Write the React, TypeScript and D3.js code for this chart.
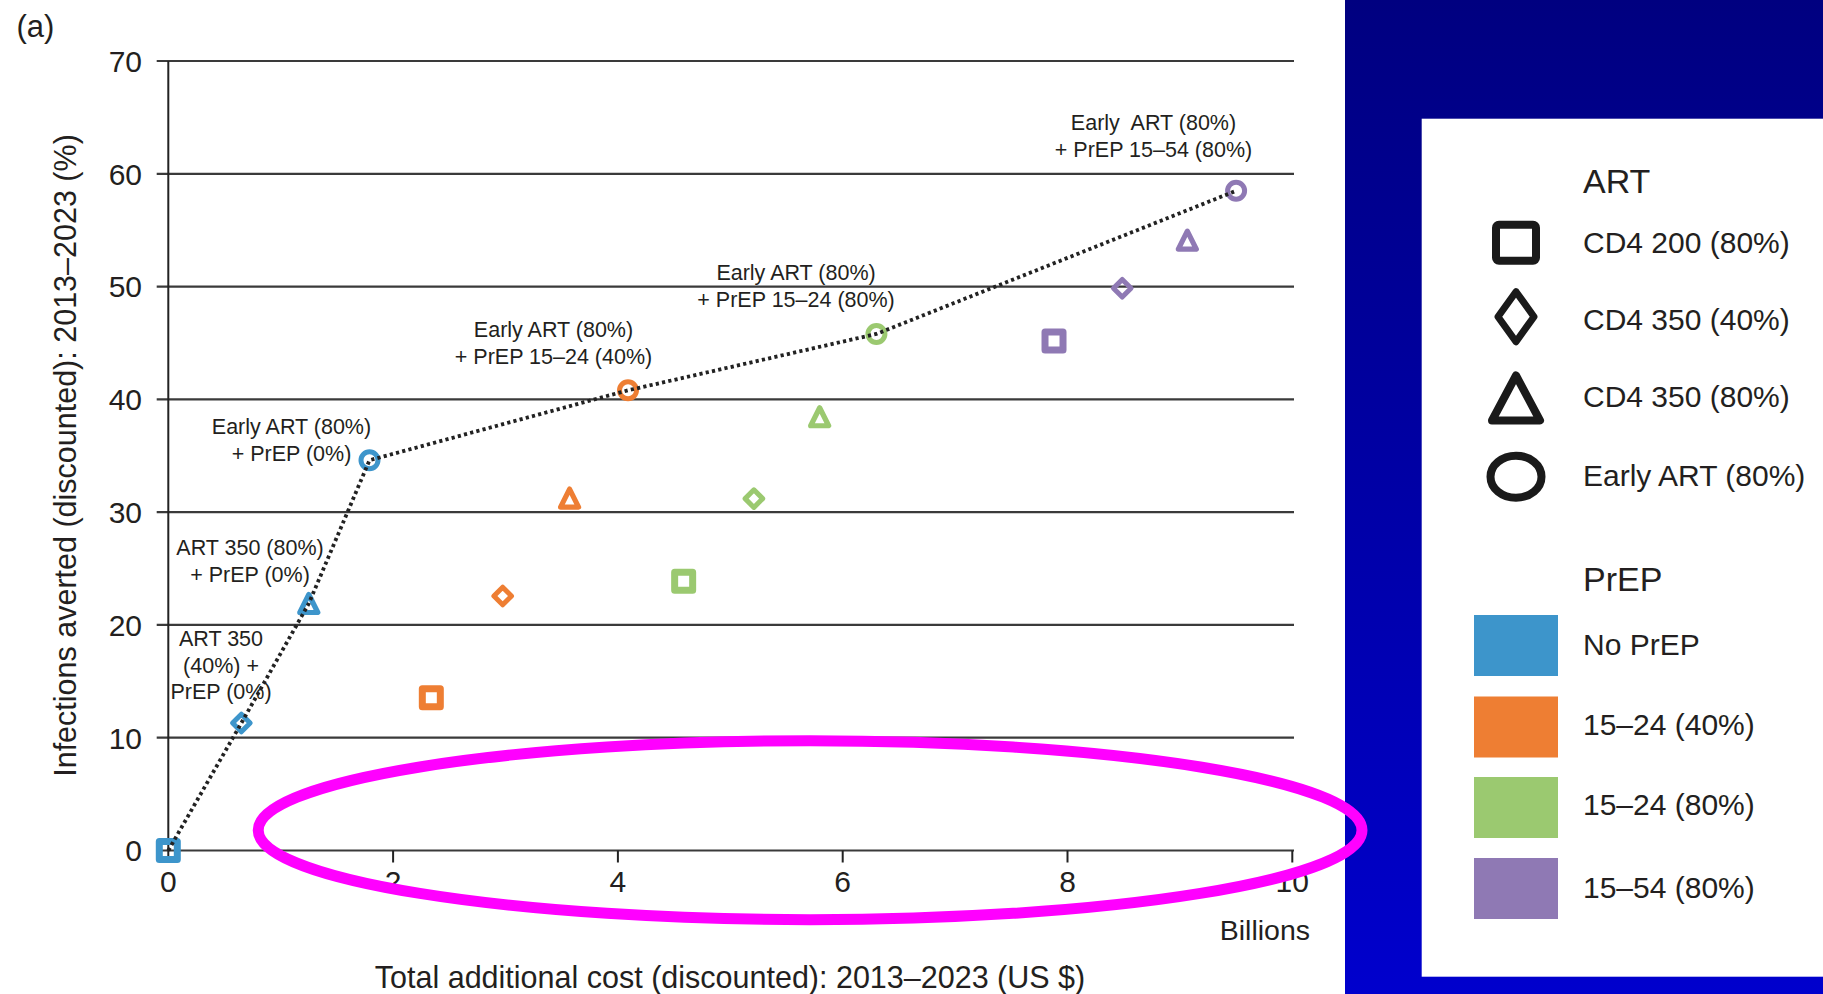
import React from "react";
import * as d3 from "d3";

// ART strategies (marker shape) and PrEP scale-up groups (colour)
const artOptions = ["CD4 200 (80%)", "CD4 350 (40%)", "CD4 350 (80%)", "Early ART (80%)"];
const artShapes = ["square", "diamond", "triangle", "circle"];
const prepGroups = ["No PrEP", "15–24 (40%)", "15–24 (80%)", "15–54 (80%)"];
const prepColors = ["#3d95cb", "#ee7e33", "#9bc970", "#8f79b4"];

// Total additional cost (billions US$), one value per ART option, per PrEP group
const costNoPrep = [0, 0.65, 1.25, 1.79];
const cost1524_40 = [2.34, 2.975, 3.57, 4.09];
const cost1524_80 = [4.585, 5.21, 5.795, 6.3];
const cost1554_80 = [7.88, 8.487, 9.066, 9.5];

// Infections averted (%), same order
const avertedNoPrep = [0, 11.3, 21.9, 34.6];
const averted1524_40 = [13.55, 22.56, 31.25, 40.8];
const averted1524_80 = [23.87, 31.2, 38.46, 45.8];
const averted1554_80 = [45.17, 49.85, 54.12, 58.49];

const costs = [costNoPrep, cost1524_40, cost1524_80, cost1554_80];
const averted = [avertedNoPrep, averted1524_40, averted1524_80, averted1554_80];

// Efficiency frontier: [PrEP group, ART option]
const frontier = [[0, 0], [0, 1], [0, 2], [0, 3], [1, 3], [2, 3], [3, 3]];

// Frontier annotations: anchor (cost, averted) of first line's baseline
const annotationLines = [
  ["Early  ART (80%)", "+ PrEP 15–54 (80%)"],
  ["Early ART (80%)", "+ PrEP 15–24 (80%)"],
  ["Early ART (80%)", "+ PrEP 15–24 (40%)"],
  ["Early ART (80%)", "+ PrEP (0%)"],
  ["ART 350 (80%)", "+ PrEP (0%)"],
  ["ART 350", "(40%) +", "PrEP (0%)"],
];
const annotationCost = [8.765, 5.585, 3.427, 1.096, 0.727, 0.469];
const annotationAverted = [63.87, 50.58, 45.52, 36.92, 26.2, 18.13];

const xTicks = [0, 2, 4, 6, 8, 10];
const yTicks = [0, 10, 20, 30, 40, 50, 60, 70];

const W = 1823;
const H = 994;
const FONT = "'Liberation Sans', Arial, Helvetica, sans-serif";
const INK = "#231f20";

function markerPath(shape: string, s: number): string {
  // s: half-size of the path outline
  switch (shape) {
    case "square":
      return `M${-s},${-s}H${s}V${s}H${-s}Z`;
    case "diamond":
      return `M0,${-s}L${s},0L0,${s}L${-s},0Z`;
    case "triangle":
      return `M0,${-s}L${s},${s}L${-s},${s}Z`;
    default:
      return "";
  }
}

function Marker({ shape, color, cx, cy }: { shape: string; color: string; cx: number; cy: number }) {
  if (shape === "circle") {
    return <circle cx={cx} cy={cy} r={8.5} fill="none" stroke={color} strokeWidth={5} />;
  }
  const size = shape === "square" ? 9 : shape === "diamond" ? 8.8 : 9;
  const sw = shape === "square" ? 7 : shape === "diamond" ? 5 : 5.2;
  return (
    <path
      d={markerPath(shape, size)}
      transform={`translate(${cx},${cy})`}
      fill="none"
      stroke={color}
      strokeWidth={sw}
      strokeLinejoin="round"
    />
  );
}

function LegendSymbol({ shape, cx, cy }: { shape: string; cx: number; cy: number }) {
  const c = "#1a1a1a";
  if (shape === "square")
    return <rect x={cx - 20} y={cy - 18} width={40} height={36} rx={3} fill="none" stroke={c} strokeWidth={8} />;
  if (shape === "diamond")
    return (
      <path d={`M${cx},${cy - 25}L${cx + 18},${cy}L${cx},${cy + 25}L${cx - 18},${cy}Z`} fill="none" stroke={c} strokeWidth={7} strokeLinejoin="round" />
    );
  if (shape === "triangle")
    return (
      <path d={`M${cx},${cy - 22.5}L${cx + 24},${cy + 22.5}L${cx - 24},${cy + 22.5}Z`} fill="none" stroke={c} strokeWidth={8} strokeLinejoin="round" />
    );
  return <ellipse cx={cx} cy={cy} rx={25.5} ry={21} fill="none" stroke={c} strokeWidth={8} />;
}

export default function App() {
  const x = d3.scaleLinear().domain([0, 10]).range([168.3, 1292.3]);
  const y = d3.scaleLinear().domain([0, 70]).range([850.5, 61]);

  const frontierLine = d3
    .line<number[]>()
    .x((d) => x(costs[d[0]][d[1]]))
    .y((d) => y(averted[d[0]][d[1]]));

  const legendX = 1421.7;
  const legendTextX = 1583;
  const artRowY = [242.7, 316.7, 398, 476.7];
  const artLabelY = [253, 330, 407, 486];
  const swatchY = [615, 696.5, 777, 858];
  const prepLabelY = [655, 735, 815, 898];

  // highlight ellipse around the x-axis cost range, in data units
  const ringCx = x(5.71);
  const ringCy = y(1.8);
  const ringRx = x(4.91) - x(0);
  const ringRy = y(0) - y(7.93);

  return (
    <svg
      width={W}
      height={H}
      viewBox={`0 0 ${W} ${H}`}
      style={{ position: "absolute", left: 0, top: 0, display: "block" }}
      fontFamily={FONT}
    >
      <defs>
        <linearGradient id="panelBlue" x1="0" y1="0" x2="0" y2="1">
          <stop offset="0" stopColor="#000080" />
          <stop offset="1" stopColor="#0000cd" />
        </linearGradient>
      </defs>
      <rect x={0} y={0} width={W} height={H} fill="#ffffff" />

      {/* panel tag */}
      <text x={16.5} y={37} fontSize={31} fill={INK}>(a)</text>

      {/* gridlines with left ticks */}
      {yTicks.map((t) => (
        <line key={`g${t}`} x1={156.7} x2={1294} y1={y(t)} y2={y(t)} stroke="#3a3a3a" strokeWidth={2.2} />
      ))}
      {/* y axis */}
      <line x1={x(0)} x2={x(0)} y1={y(70)} y2={y(0)} stroke="#222" strokeWidth={2} />
      {/* x ticks */}
      {xTicks.map((t) => (
        <line key={`xt${t}`} x1={x(t)} x2={x(t)} y1={y(0)} y2={y(0) + 12} stroke="#222" strokeWidth={2} />
      ))}
      {yTicks.map((t) => (
        <text key={`yl${t}`} x={142} y={y(t)} dy="0.36em" textAnchor="end" fontSize={30} fill={INK}>
          {t}
        </text>
      ))}
      {xTicks.map((t) => (
        <text key={`xl${t}`} x={x(t)} y={892} textAnchor="middle" fontSize={30} fill={INK}>
          {t}
        </text>
      ))}
      <text x={1310} y={940} textAnchor="end" fontSize={28.5} fill={INK}>Billions</text>
      <text x={730} y={988} textAnchor="middle" fontSize={30.5} fill={INK}>
        Total additional cost (discounted): 2013–2023 (US $)
      </text>
      <text
        transform={`translate(76,455.5) rotate(-90)`}
        textAnchor="middle"
        fontSize={30.5}
        fill={INK}
      >
        Infections averted (discounted): 2013–2023 (%)
      </text>

      {/* scenario markers */}
      {prepGroups.map((g, gi) =>
        artShapes.map((shape, ai) => (
          <Marker
            key={`${g}-${ai}`}
            shape={shape}
            color={prepColors[gi]}
            cx={x(costs[gi][ai])}
            cy={y(averted[gi][ai])}
          />
        ))
      )}

      {/* efficiency frontier */}
      <path
        d={frontierLine(frontier) || ""}
        fill="none"
        stroke="#222"
        strokeWidth={3.8}
        strokeDasharray="3.2 3.2"
      />

      {/* frontier annotations */}
      {annotationLines.map((lines, i) => (
        <text key={`a${i}`} textAnchor="middle" fontSize={21.5} fill={INK}>
          {lines.map((ln, j) => (
            <tspan key={j} x={x(annotationCost[i])} y={y(annotationAverted[i]) + j * 26.5} style={{ whiteSpace: "pre" }}>
              {ln}
            </tspan>
          ))}
        </text>
      ))}

      {/* blue side panel with legend */}
      <rect x={1345} y={0} width={W - 1345} height={H} fill="url(#panelBlue)" />
      <rect x={legendX} y={118.7} width={W - legendX} height={976.7 - 118.7} fill="#ffffff" />
      <text x={legendTextX} y={193} fontSize={34} fill={INK}>ART</text>
      {artOptions.map((lab, i) => (
        <g key={`la${i}`}>
          <LegendSymbol shape={artShapes[i]} cx={1516} cy={artRowY[i]} />
          <text x={legendTextX} y={artLabelY[i]} fontSize={30} fill={INK}>{lab}</text>
        </g>
      ))}
      <text x={legendTextX} y={590.7} fontSize={34} fill={INK}>PrEP</text>
      {prepGroups.map((lab, i) => (
        <g key={`lp${i}`}>
          <rect x={1474} y={swatchY[i]} width={84} height={61} fill={prepColors[i]} />
          <text x={legendTextX} y={prepLabelY[i]} fontSize={30} fill={INK}>{lab}</text>
        </g>
      ))}

      {/* highlight ring */}
      <ellipse cx={ringCx} cy={ringCy} rx={ringRx} ry={ringRy} fill="none" stroke="#ff00ff" strokeWidth={11} />
    </svg>
  );
}
